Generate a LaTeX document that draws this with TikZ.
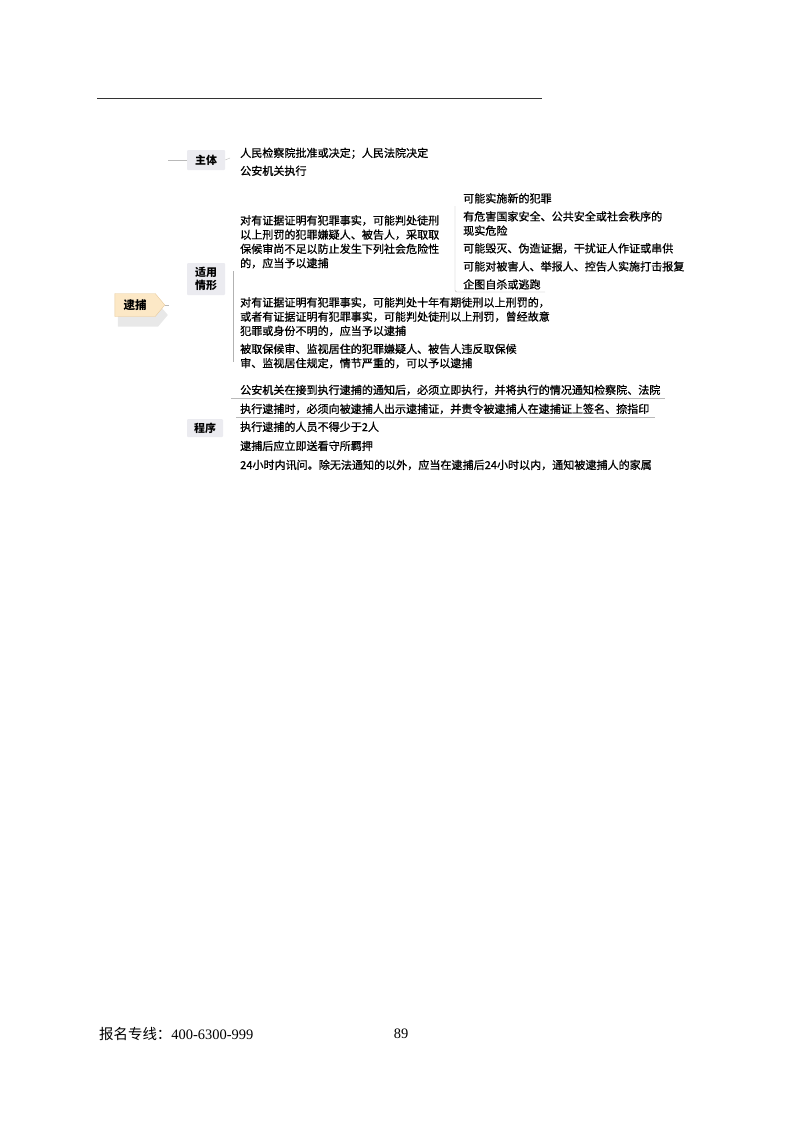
\documentclass[tikz,border=0pt]{standalone}
\usepackage{fontspec}
\setmainfont{Liberation Serif}
\newfontfamily\cjk{Noto Sans CJK SC}
\newfontfamily\cjkm[FakeBold=0.9]{Noto Sans CJK SC}
\usetikzlibrary{shapes.symbols,shadows}
\definecolor{topicfill}{HTML}{FCE8C6}
\definecolor{topicdraw}{HTML}{E6C99C}
\definecolor{boxfill}{HTML}{EBEBF0}
\definecolor{rulegray}{HTML}{333333}

\begin{document}
\begin{tikzpicture}[x=1bp,y=-1bp]
	  \useasboundingbox (0,0) rectangle (800,1124);
	  \tikzset{TopicStyle/.style = {signal,
	                                 signal to        = east,
	                                 signal pointer angle = 100,
	                                 fill             = topicfill,
	                                 draw             = topicdraw,
	                                 minimum width    = 50bp,
	                                 minimum height   = 23bp,
	                                 inner sep        = 0pt,
	                                 font             = \cjk\fontsize{11.5}{13}\selectfont\bfseries,
	                                 drop shadow      = {shadow xshift=3bp, shadow yshift=-10bp,
	                                                     fill=gray!30, opacity=0.6}}}

	  \tikzset{BranchStyle/.style = {fill          = boxfill,
	                                 rounded corners = 1pt,
	                                 align         = center,
	                                 minimum width = 38bp,
	                                 minimum height= 20bp,
	                                 inner sep     = 1pt,
	                                 font          = \cjk\fontsize{11}{13}\selectfont\bfseries}}

	  \tikzset{LeafStyle/.style   = {anchor        = north west,
	                                 align         = left,
	                                 inner sep     = 0pt,
	                                 font          = \cjkm\fontsize{11.1}{14.3}\selectfont}}

	  \tikzset{EdgeStyle/.style   = {gray!55, thin}}
	  \tikzset{BracketStyle/.style= {gray!60, thin, rounded corners=2pt}}

	     % page rule and footer
	     \coordinate (R_1) at (97,98.5);
	     \coordinate (R_2) at (542,98.5);
	     \draw[rulegray, line width=1.6bp] (R_1) -- (R_2);
	     \node[anchor=west, inner sep=0pt, font=\fontsize{14.5}{16}\selectfont] (Hotline) at (99,1034)
	          {{\cjk 报名专线：}400-6300-999};
	     \node[inner sep=0pt, font=\fontsize{14.5}{16}\selectfont] (Page) at (401,1034) {89};

	     % central topic and branches
	     \node[TopicStyle] (Arrest) at (135,305) {逮捕};
	     \node[BranchStyle] (Subject) at (206,160) {主体};
	     \node[BranchStyle, minimum height=32bp] (Cases) at (206,279) {适用\\情形};
	     \node[BranchStyle, minimum width=36bp, minimum height=18bp] (Proc) at (205,428) {程序};

	     \coordinate (J_0) at (169,305);
	     \coordinate (J_1) at (168,160);
	     \coordinate (J_2) at (230,158);
	     \draw[EdgeStyle] (Arrest.east) -- (J_0);
	     \draw[EdgeStyle] (J_1) -- (Subject.west);
	     \draw[EdgeStyle] (Subject.east) -- (J_2);

	     % subject
	     \node[LeafStyle] (S_1) at (240,147.5) {人民检察院批准或决定；人民法院决定};
	     \node[LeafStyle] (S_2) at (240,165.5) {公安机关执行};

	     % cases
	     \coordinate (B_1) at (233,271);
	     \coordinate (B_2) at (233,362);
	     \draw[BracketStyle] (B_1) -- (B_2);
	     \node[LeafStyle] (C_1) at (240,215)
	          {对有证据证明有犯罪事实，可能判处徒刑\\以上刑罚的犯罪嫌疑人、被告人，采取取\\保候审尚不足以防止发生下列社会危险性\\的，应当予以逮捕};
	     \node[LeafStyle] (C_2) at (240,297)
	          {对有证据证明有犯罪事实，可能判处十年有期徒刑以上刑罚的，\\或者有证据证明有犯罪事实，可能判处徒刑以上刑罚，曾经故意\\犯罪或身份不明的，应当予以逮捕};
	     \node[LeafStyle] (C_3) at (240,343.5)
	          {被取保候审、监视居住的犯罪嫌疑人、被告人违反取保候\\审、监视居住规定，情节严重的，可以予以逮捕};

	     % dangers
	     \coordinate (D_1) at (455,206);
	     \coordinate (D_2) at (455,292);
	     \coordinate (D_3) at (545,292);
	     \draw[BracketStyle] (D_1) -- (D_2) -- (D_3);
	     \node[LeafStyle] (D_a) at (463,193) {可能实施新的犯罪};
	     \node[LeafStyle] (D_b) at (463,211) {有危害国家安全、公共安全或社会秩序的\\现实危险};
	     \node[LeafStyle] (D_c) at (463,243) {可能毁灭、伪造证据，干扰证人作证或串供};
	     \node[LeafStyle] (D_d) at (463,261) {可能对被害人、举报人、控告人实施打击报复};
	     \node[LeafStyle] (D_e) at (463,279) {企图自杀或逃跑};

	     % procedure
	     \node[LeafStyle] (P_1) at (240,384.5) {公安机关在接到执行逮捕的通知后，必须立即执行，并将执行的情况通知检察院、法院};
	     \node[LeafStyle] (P_2) at (240,403.5) {执行逮捕时，必须向被逮捕人出示逮捕证，并责令被逮捕人在逮捕证上签名、捺指印};
	     \node[LeafStyle] (P_3) at (240,421.5) {执行逮捕的人员不得少于2人};
	     \node[LeafStyle] (P_4) at (240,440.5) {逮捕后应立即送看守所羁押};
	     \node[LeafStyle] (P_5) at (240,459.5) {24小时内讯问。除无法通知的以外，应当在逮捕后24小时以内，通知被逮捕人的家属};

	     \coordinate (U_1) at (231,398);
	     \coordinate (U_2) at (665,398);
	     \coordinate (U_3) at (236,417);
	     \coordinate (U_4) at (655,417);
	     \draw[EdgeStyle] (U_1) -- (U_2);
	     \draw[EdgeStyle] (U_3) -- (U_4);
	  \end{tikzpicture}
\end{document}
